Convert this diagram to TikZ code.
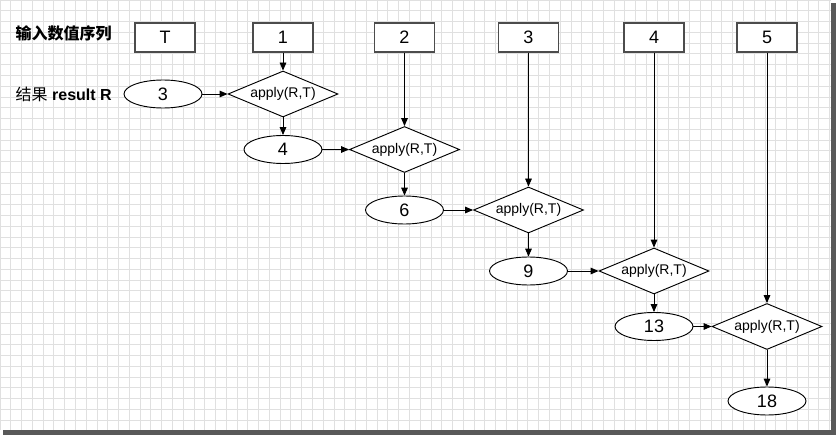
\documentclass[tikz,border=0pt]{standalone}
\usepackage{fontspec}
\setmainfont{Liberation Sans}
\newfontfamily\cjk{Noto Sans CJK SC}
\usetikzlibrary{shapes.geometric,arrows.meta}

\begin{document}
\begin{tikzpicture}[x=0.75pt, y=-0.75pt,
    kasten/.style={draw=black!70, line width=0.9pt, fill=white, minimum width=45pt, minimum height=21.75pt, inner sep=0pt, font=\fontsize{13.5}{14}\selectfont},
    oval/.style={ellipse, draw, line width=0.7pt, fill=white, minimum width=58.5pt, minimum height=21pt, inner sep=0pt, font=\fontsize{13.5}{14}\selectfont},
    raute/.style={diamond, draw, line width=0.7pt, fill=white, aspect=2.4, minimum width=82.5pt, minimum height=34.5pt, inner sep=0pt, font=\fontsize{10.5}{11}\selectfont},
    pfeil/.style={draw, line width=0.7pt, -{Triangle[length=6pt,width=5pt]}},
    gitter/.style={draw=black!12, line width=0.6pt}]

        \useasboundingbox (0,0) rectangle (836,435);

        % Hintergrund
        \fill[white] (0,0) rectangle (831,430);
        \draw[gitter, step=8.08pt] (0,0) grid (831,430);
        \fill[black!65] (831,3) rectangle (836,435);
        \fill[black!65] (3,430) rectangle (836,435);

        % Beschriftung links
        \node [anchor=west, font=\fontsize{12}{13}\selectfont] (folge) at (11,33) {\cjk\bfseries 输入数值序列};
        \node [anchor=west, font=\fontsize{12}{13}\selectfont] (ergebnistext) at (11,94) {{\cjk 结果} \bfseries result R};

        % Eingabefolge
        \node [kasten] (eingabe0) at (165,37.5) {T};
        \foreach \nr/\x in {1/283, 2/404.5, 3/528.5, 4/654, 5/767}
            \node [kasten] (eingabe\nr) at (\x,37.5) {\nr};

        % Ergebnisse
        \foreach \nr/\x/\y/\wert in {0/163/94/3, 1/283/149.5/4, 2/404.5/210/6, 3/528.5/271/9, 4/654/326.5/13, 5/767/401/18}
            \node [oval] (ergebnis\nr) at (\x,\y) {\wert};

        % Rauten
        \foreach \nr/\x/\y in {1/283/94, 2/404.5/149.5, 3/528.5/210, 4/654/271, 5/767/326.5}
            \node [raute] (anwenden\nr) at (\x,\y) {apply(R,T)};

        % Pfeile
        \foreach \nr in {1,...,5}
        {
            \pgfmathtruncatemacro{\vor}{\nr-1}
            \draw [pfeil] (eingabe\nr) -- (anwenden\nr);
            \draw [pfeil] (ergebnis\vor) -- (anwenden\nr);
            \draw [pfeil] (anwenden\nr) -- (ergebnis\nr);
        }

\end{tikzpicture}
\end{document}
